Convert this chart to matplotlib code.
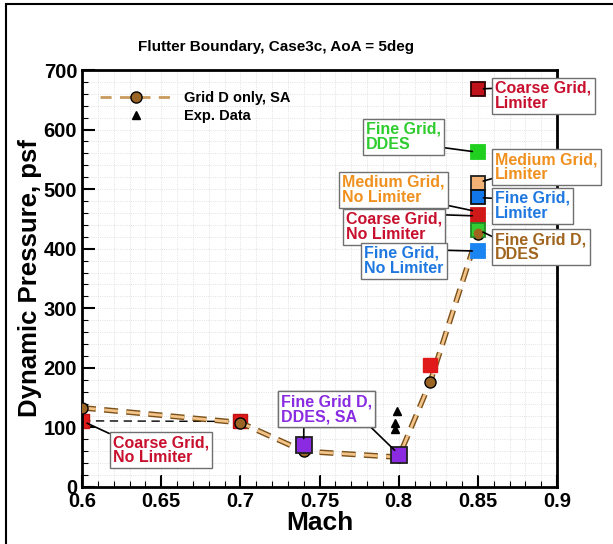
import numpy as np
import matplotlib.pyplot as plt
import matplotlib.patheffects as pe
from matplotlib.patches import Rectangle
from matplotlib.lines import Line2D
from matplotlib.ticker import MultipleLocator

plt.rcParams['font.family'] = ['Liberation Sans', 'DejaVu Sans']
plt.rcParams['font.weight'] = 'bold'

# Grid D only, SA
mach_sa = [0.6, 0.7, 0.74, 0.8, 0.82, 0.85]
q_sa = [133, 108, 60, 50, 177, 425]

# Coarse grid, no limiter (black dashed)
mach_cnl = [0.6, 0.7]
q_cnl = [111, 110]

# Exp. data
mach_exp = [0.7975, 0.7975, 0.799]
q_exp = [97, 107, 128]

mach_red = [0.82]
q_red = [205]
mach_purple = [0.74, 0.8]
q_purple = [70, 53]

# single points at M=0.85: (mach, q, face, edge)
pts = {
    'coarse_lim': (0.85, 668, '#c0121a', '#300000'),
    'fine_ddes': (0.85, 562, '#1fd01f', '#1fd01f'),
    'med_lim': (0.85, 511, '#f2b276', '#202020'),
    'fine_lim': (0.85, 486, '#1177e8', '#101010'),
    'coarse_nolim': (0.85, 457, '#d01818', '#d01818'),
    'fineD_ddes': (0.85, 432, '#33cc33', '#228822'),
    'fine_nolim': (0.85, 396, '#1a85f0', '#1a85f0'),
}

# labels: text, color, text position, target, relpos
labels = [
    ('Coarse Grid,\nLimiter', '#c8102e', (0.861, 682), (0.85, 668), (0, 0.75)),
    ('Fine Grid,\nDDES', '#2ecc2e', (0.7795, 613), (0.85, 562), (1, 0.15)),
    ('Medium Grid,\nLimiter', '#f0901e', (0.861, 562), (0.85, 511), (0, 0.15)),
    ('Fine Grid,\nLimiter', '#1e78e0', (0.861, 497), (0.85, 486), (0, 0.75)),
    ('Medium Grid,\nNo Limiter', '#f0901e', (0.7645, 524), (0.85, 462), (1, 0.0)),
    ('Coarse Grid,\nNo Limiter', '#c8102e', (0.7668, 462), (0.85, 455), (1, 0.9)),
    ('Fine Grid D,\nDDES', '#a0641e', (0.861, 428), (0.85, 432), (0, 0.8)),
    ('Fine Grid,\nNo Limiter', '#1e78e0', (0.7782, 405), (0.85, 396), (1, 0.85)),
    ('Coarse Grid,\nNo Limiter', '#c8102e', (0.6195, 87), (0.6, 111), (0, 1)),
]

fig = plt.figure(figsize=(6.13, 5.44), dpi=100)
ax = fig.add_axes([0.1338, 0.1048, 0.7749, 0.7665])

fig.patches.append(Rectangle((6 / 613, -0.01), 1.0, 1 - 4 / 544 + 0.01,
                             transform=fig.transFigure, fill=False,
                             edgecolor='black', lw=1.5))

ax.set_xlim(0.6, 0.9)
ax.set_ylim(0, 700)
ax.xaxis.set_major_locator(MultipleLocator(0.05))
ax.xaxis.set_minor_locator(MultipleLocator(0.01))
ax.yaxis.set_major_locator(MultipleLocator(100))
ax.yaxis.set_minor_locator(MultipleLocator(20))
ax.set_xticks(np.arange(0.6, 0.91, 0.05))
ax.set_xticklabels(['0.6', '0.65', '0.7', '0.75', '0.8', '0.85', '0.9'])
ax.grid(True, which='both', color='#d8d8d8', lw=0.6, ls=':')
ax.tick_params(which='both', direction='in', top=False, right=False,
               labelsize=14.5, width=1.5)
ax.tick_params(which='major', length=9)
ax.tick_params(which='minor', length=4, width=0.8)
for s in ax.spines.values():
    s.set_linewidth(2)
for t in ax.get_xticklabels() + ax.get_yticklabels():
    t.set_fontweight('bold')

ax.set_xlabel('Mach', fontsize=19, fontweight='bold', labelpad=0)
ax.set_ylabel('Dynamic Pressure, psf', fontsize=18.5, fontweight='bold',
              labelpad=1)
fig.text(0.45, 1 - 47 / 544, 'Flutter Boundary, Case3c, AoA = 5deg',
         fontsize=11, fontweight='bold', ha='center', va='center')

ax.plot(mach_cnl, q_cnl, ls=(0, (6, 4)), color='black', lw=1, zorder=2)

# double dashed line (dark outline + tan core), then markers on top
ax.plot(mach_sa, q_sa, ls=(0, (5, 3)), color='#f3c48a', lw=2, zorder=3,
        path_effects=[pe.Stroke(linewidth=4, foreground='#7a5018'),
                      pe.Normal()])
ax.plot(mach_sa, q_sa, ls='none', marker='o', ms=8, mfc='#9a6424',
        mec='black', mew=1.0, zorder=3.5)

ax.plot(mach_exp, q_exp, ls='none', marker='^', ms=6, color='black',
        zorder=4)

ax.plot(mach_red, q_red, ls='none', marker='s', ms=10, mfc='#e01a1a',
        mec='#e01a1a', zorder=4)
ax.plot([0.6, 0.7], q_cnl, ls='none', marker='s', ms=10, mfc='#e01a1a',
        mec='#c01010', zorder=2.5)
ax.plot(mach_purple, q_purple, ls='none', marker='s', ms=11, mfc='#8a2be2',
        mec='#202020', mew=1.3, zorder=5)

for k, (m, q, fc, ec) in pts.items():
    ax.plot([m], [q], ls='none', marker='s', ms=10, mfc=fc, mec=ec,
            mew=1.3, zorder=5)
ax.plot([0.85], [427], ls='none', marker='o', ms=6, mfc='#a0641e',
        mec='#a0641e', zorder=6)

box = dict(boxstyle='square,pad=0.2', fc='white', ec='#707070', lw=1)
for txt, col, tpos, target, rp in labels:
    ax.annotate(txt, xy=target, xytext=tpos, color=col, fontsize=11.5,
                fontweight='bold', ha='left', va='top', linespacing=1.0,
                bbox=box,
                arrowprops=dict(arrowstyle='-', color='black', lw=1.2,
                                relpos=rp, shrinkA=0, shrinkB=4),
                zorder=7, annotation_clip=False)

# purple label with two leaders
for target, rp in [((0.74, 72), (0.25, 0)), ((0.8, 55), (0.95, 0))]:
    ax.annotate('Fine Grid D,\nDDES, SA', xy=target, xytext=(0.7257, 156),
                color='#8a2be2', fontsize=11.5, fontweight='bold', ha='left',
                va='top', linespacing=1.0, bbox=box,
                arrowprops=dict(arrowstyle='-', color='black', lw=1.2,
                                relpos=rp, shrinkA=0, shrinkB=4), zorder=7)

h_sa = Line2D([], [], ls=(0, (4, 3)), color='#c99a5e', lw=2, marker='o',
              ms=8, mfc='#9a6424', mec='black', mew=1.0)
h_exp = Line2D([], [], ls='none', marker='^', ms=6, color='black')
leg = ax.legend([h_sa, h_exp], ['Grid D only, SA', 'Exp. Data'],
                loc='upper left', bbox_to_anchor=(0.01, 0.98), frameon=False,
                fontsize=10.5, handlelength=5, labelspacing=0.25,
                handletextpad=0.8)
for t in leg.get_texts():
    t.set_fontweight('bold')

fig.savefig('out.png', dpi=100)
